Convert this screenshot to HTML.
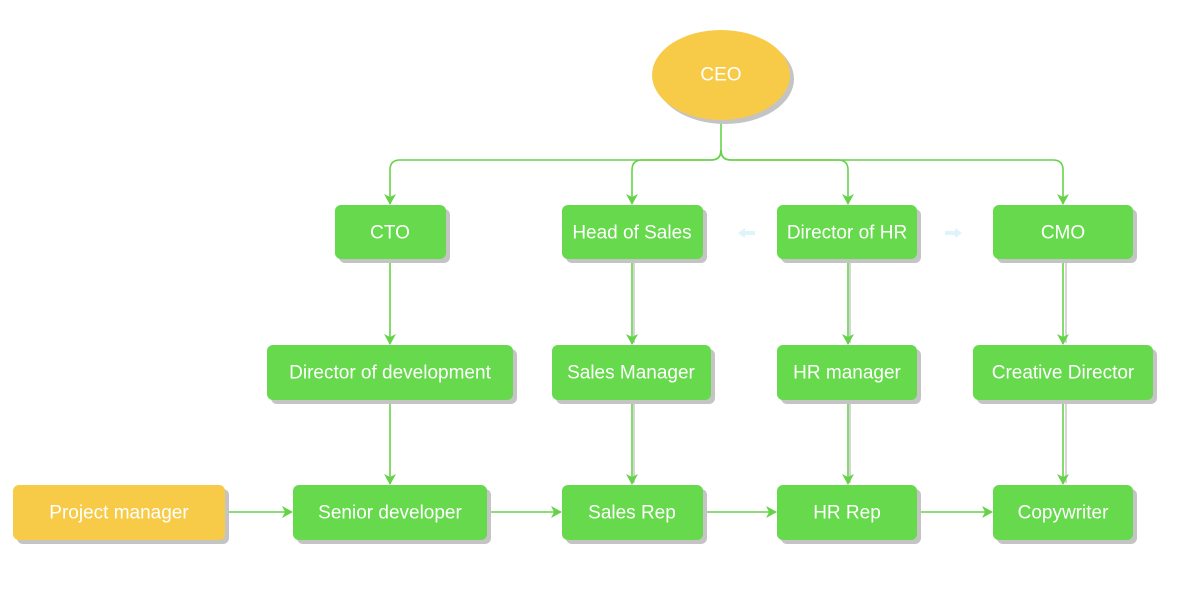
<!DOCTYPE html>
<html><head><meta charset="utf-8"><style>
body{margin:0;background:#fff;width:1194px;height:607px;overflow:hidden}
svg text{font-family:"Liberation Sans",sans-serif;font-size:19px;fill:#fff;text-anchor:middle;dominant-baseline:central}
</style></head><body>
<svg width="1194" height="607" viewBox="0 0 1194 607">
<defs><marker id="a" markerWidth="12" markerHeight="12" refX="10" refY="6" orient="auto" markerUnits="userSpaceOnUse"><path d="M0,0 L11,6 L0,12 L3,6 Z" fill="#66d24a"/></marker></defs>
<g stroke="#c8c8c8" stroke-width="1.5" fill="none">
<line x1="634" y1="262" x2="634" y2="343"/><line x1="850" y1="262" x2="850" y2="343"/><line x1="1066" y1="262" x2="1066" y2="343"/>
<line x1="634" y1="402" x2="634" y2="483"/><line x1="850" y1="402" x2="850" y2="483"/><line x1="1066" y1="402" x2="1066" y2="483"/>
</g>
<g stroke="#66d24a" stroke-width="1.6" fill="none" marker-end="url(#a)">
<path d="M721,118 V150 Q721,160 711,160 H400 Q390,160 390,170 V204"/>
<path d="M721,150 Q721,160 711,160 H642 Q632,160 632,170 V204"/>
<path d="M721,150 Q721,160 731,160 H838 Q848,160 848,170 V204"/>
<path d="M721,150 Q721,160 731,160 H1053 Q1063,160 1063,170 V204"/>
<line x1="390" y1="260" x2="390" y2="344"/><line x1="632" y1="260" x2="632" y2="344"/><line x1="848" y1="260" x2="848" y2="344"/><line x1="1063" y1="260" x2="1063" y2="344"/>
<line x1="390" y1="401" x2="390" y2="484"/><line x1="632" y1="401" x2="632" y2="484"/><line x1="848" y1="401" x2="848" y2="484"/><line x1="1063" y1="401" x2="1063" y2="484"/>
<line x1="226" y1="512" x2="292" y2="512"/><line x1="488" y1="512" x2="561" y2="512"/><line x1="704" y1="512" x2="776" y2="512"/><line x1="918" y1="512" x2="992" y2="512"/>
</g>
<g fill="#dff3fb"><path d="M738,233 l7,-5 v3 h10 v4 h-10 v3z"/><path d="M962,233 l-7,-5 v3 h-10 v4 h10 v3z"/></g>
<g fill="#c4c4c4">
<ellipse cx="725" cy="79" rx="69" ry="45"/>
<rect x="339" y="209" width="111" height="54" rx="6"/><rect x="566" y="209" width="141" height="54" rx="6"/><rect x="781" y="209" width="140" height="54" rx="6"/><rect x="997" y="209" width="140" height="54" rx="6"/>
<rect x="271" y="349" width="246" height="55" rx="6"/><rect x="556" y="349" width="159" height="55" rx="6"/><rect x="781" y="349" width="140" height="55" rx="6"/><rect x="977" y="349" width="180" height="55" rx="6"/>
<rect x="17" y="489" width="212" height="55" rx="6"/><rect x="297" y="489" width="194" height="55" rx="6"/><rect x="566" y="489" width="141" height="55" rx="6"/><rect x="781" y="489" width="140" height="55" rx="6"/><rect x="997" y="489" width="140" height="55" rx="6"/>
</g>
<ellipse cx="721" cy="75" rx="69" ry="45" fill="#f7cb48"/>
<g fill="#66d94c">
<rect x="335" y="205" width="111" height="54" rx="6"/><rect x="562" y="205" width="141" height="54" rx="6"/><rect x="777" y="205" width="140" height="54" rx="6"/><rect x="993" y="205" width="140" height="54" rx="6"/>
<rect x="267" y="345" width="246" height="55" rx="6"/><rect x="552" y="345" width="159" height="55" rx="6"/><rect x="777" y="345" width="140" height="55" rx="6"/><rect x="973" y="345" width="180" height="55" rx="6"/>
<rect x="293" y="485" width="194" height="55" rx="6"/><rect x="562" y="485" width="141" height="55" rx="6"/><rect x="777" y="485" width="140" height="55" rx="6"/><rect x="993" y="485" width="140" height="55" rx="6"/>
</g>
<rect x="13" y="485" width="212" height="55" rx="6" fill="#f7cb48"/>
<text x="721" y="75">CEO</text>
<text x="390" y="233">CTO</text><text x="632" y="233">Head of Sales</text><text x="847" y="233">Director of HR</text><text x="1063" y="233">CMO</text>
<text x="390" y="373">Director of development</text><text x="631" y="373">Sales Manager</text><text x="847" y="373">HR manager</text><text x="1063" y="373">Creative Director</text>
<text x="119" y="513">Project manager</text><text x="390" y="513">Senior developer</text><text x="632" y="513">Sales Rep</text><text x="847" y="513">HR Rep</text><text x="1063" y="513">Copywriter</text>
</svg>
</body></html>
